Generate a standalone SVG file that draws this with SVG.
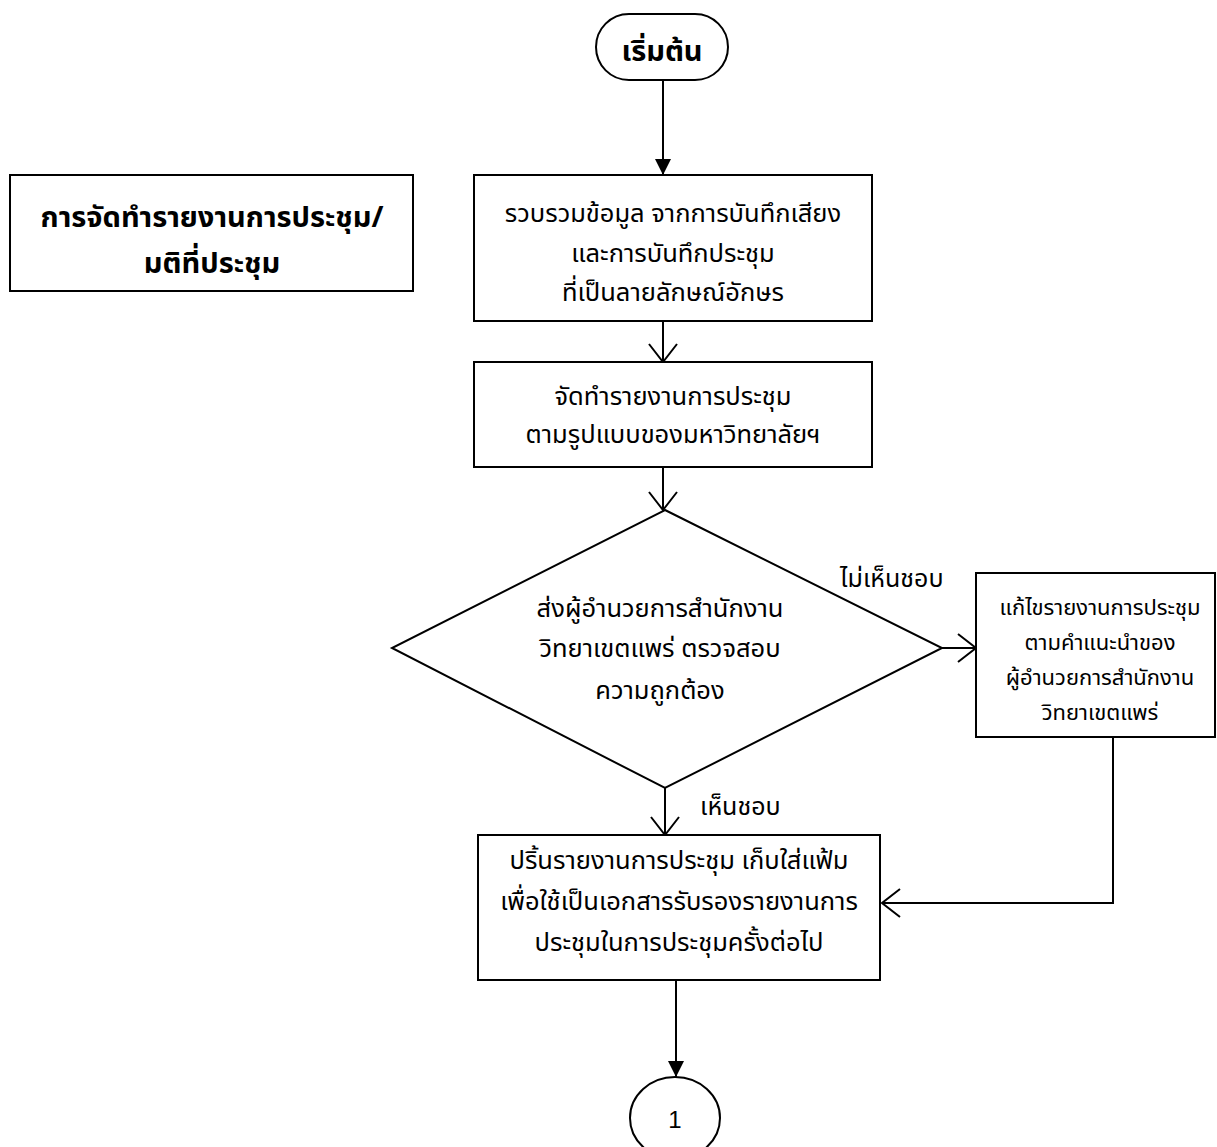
<svg xmlns="http://www.w3.org/2000/svg" width="1217" height="1147" viewBox="0 0 1217 1147">
<defs>
<style>
.shape{fill:#fff;stroke:#000;stroke-width:2}
.line{fill:none;stroke:#000;stroke-width:2}
text{font-family:"Noto Sans Thai","Leelawadee UI","Noto Sans","Liberation Sans",sans-serif;fill:#000;text-anchor:middle}
.t{font-size:25.5px}
.ts{font-size:22px}
.tb{font-size:29px;font-weight:bold}
.lbl{font-size:25px;text-anchor:start}
</style>
<marker id="filled" viewBox="0 0 16 16" markerWidth="16" markerHeight="16" refX="16" refY="8" orient="auto" markerUnits="userSpaceOnUse">
<path d="M0,0 L16,8 L0,16 Z" fill="#000"/>
</marker>
<marker id="open" viewBox="0 0 20 30" markerWidth="20" markerHeight="30" refX="19" refY="15" orient="auto" markerUnits="userSpaceOnUse">
<path d="M1,1 L19,15 L1,29" fill="none" stroke="#000" stroke-width="2"/>
</marker>
</defs>
<rect width="1217" height="1147" fill="#fff"/>

<g id="connectors">
<line class="line" x1="663" y1="80" x2="663" y2="175" marker-end="url(#filled)"/>
<line class="line" x1="663" y1="321" x2="663" y2="362" marker-end="url(#open)"/>
<line class="line" x1="663" y1="467" x2="663" y2="510" marker-end="url(#open)"/>
<line class="line" x1="942" y1="648" x2="976" y2="648" marker-end="url(#open)"/>
<line class="line" x1="665" y1="788" x2="665" y2="835" marker-end="url(#open)"/>
<polyline class="line" points="1113,737 1113,903 882,903" marker-end="url(#open)"/>
<line class="line" x1="676" y1="980" x2="676" y2="1077" marker-end="url(#filled)"/>
<text class="lbl" x="840" y="587">ไม่เห็นชอบ</text>
<text class="lbl" x="700" y="815">เห็นชอบ</text>
</g>

<g id="start">
<rect class="shape" x="596" y="14" width="132" height="66" rx="33" ry="33"/>
<text class="tb" x="662" y="61">เริ่มต้น</text>
</g>

<g id="title">
<rect class="shape" x="10" y="175" width="403" height="116"/>
<text class="tb" x="212" y="227">การจัดทำรายงานการประชุม/</text>
<text class="tb" x="212" y="273">มติที่ประชุม</text>
</g>

<g id="collect">
<rect class="shape" x="474" y="175" width="398" height="146"/>
<text class="t" x="673" y="222">รวบรวมข้อมูล จากการบันทึกเสียง</text>
<text class="t" x="673" y="262">และการบันทึกประชุม</text>
<text class="t" x="673" y="301">ที่เป็นลายลักษณ์อักษร</text>
</g>

<g id="prepare">
<rect class="shape" x="474" y="362" width="398" height="105"/>
<text class="t" x="673" y="405">จัดทำรายงานการประชุม</text>
<text class="t" x="673" y="443">ตามรูปแบบของมหาวิทยาลัยฯ</text>
</g>

<g id="review">
<polygon class="shape" points="665,510 942,648 665,788 392,648"/>
<text class="t" x="660" y="617">ส่งผู้อำนวยการสำนักงาน</text>
<text class="t" x="660" y="657">วิทยาเขตแพร่ ตรวจสอบ</text>
<text class="t" x="660" y="699">ความถูกต้อง</text>
</g>

<g id="revise">
<rect class="shape" x="976" y="573" width="239" height="164"/>
<text class="ts" x="1100" y="615">แก้ไขรายงานการประชุม</text>
<text class="ts" x="1100" y="650">ตามคำแนะนำของ</text>
<text class="ts" x="1100" y="685">ผู้อำนวยการสำนักงาน</text>
<text class="ts" x="1100" y="720">วิทยาเขตแพร่</text>
</g>

<g id="print">
<rect class="shape" x="478" y="835" width="402" height="145"/>
<text class="t" x="679" y="869">ปริ้นรายงานการประชุม เก็บใส่แฟ้ม</text>
<text class="t" x="679" y="910">เพื่อใช้เป็นเอกสารรับรองรายงานการ</text>
<text class="t" x="679" y="951">ประชุมในการประชุมครั้งต่อไป</text>
</g>

<g id="connector1">
<ellipse class="shape" cx="675" cy="1118" rx="45" ry="41"/>
<text class="t" x="675" y="1128" style="font-family:'Liberation Sans',sans-serif;font-size:24px">1</text>
</g>
</svg>
